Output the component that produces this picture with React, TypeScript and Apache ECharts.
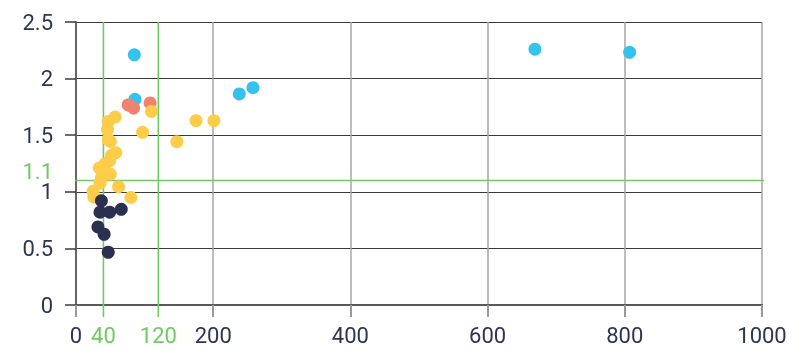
import React, { useEffect, useRef } from "react";
import * as echarts from "echarts";

const xTicks = { min: 0, max: 1000, interval: 200 };
const yTicks = { min: 0, max: 2.5, interval: 0.5 };
const refX = [40, 120];
const refY = [1.1];
const refXSpan = [2.5, -0.105];
const refYSpan = [-16, 1010];

const navyX = [37, 35, 49, 66, 32, 41, 47];
const navyY = [0.92, 0.82, 0.82, 0.845, 0.69, 0.625, 0.466];

const yellowX = [57, 47, 46, 97, 47, 50, 58, 52, 49, 42, 34, 50, 37, 35, 62, 25, 26, 80, 110, 147, 175, 201];
const yellowY = [1.66, 1.62, 1.55, 1.525, 1.46, 1.445, 1.345, 1.325, 1.275, 1.245, 1.21, 1.157, 1.12, 1.075, 1.045, 1.005, 0.955, 0.95, 1.71, 1.443, 1.628, 1.628];

const redX = [76, 84, 108];
const redY = [1.767, 1.74, 1.785];

const blueX = [85, 86, 238, 258, 669, 807];
const blueY = [2.21, 1.817, 1.864, 1.92, 2.26, 2.232];

const NAVY = "#2b3050";
const YELLOW = "#fdcc48";
const RED = "#f0836f";
const BLUE = "#36c2ef";
const GREEN = "#72c865";
const LABEL = "#2e3453";
const FONT = "Roboto";

const zip = (xs: number[], ys: number[]) => xs.map((x, i) => [x, ys[i]]);

export default function App() {
  const ref = useRef<HTMLDivElement>(null);
  useEffect(() => {
    if (!ref.current) return;
    const chart = echarts.init(ref.current, undefined, { renderer: "svg" });
    const scatter = (name: string, xs: number[], ys: number[], color: string) => ({
      name,
      type: "scatter",
      xAxisIndex: 0,
      yAxisIndex: 0,
      symbolSize: 13,
      clip: false,
      z: 3,
      itemStyle: { color, opacity: 1 },
      data: zip(xs, ys),
    });
    const refLine = (data: number[][]) => ({
      type: "line",
      xAxisIndex: 0,
      yAxisIndex: 0,
      silent: true,
      clip: false,
      symbol: "none",
      z: 2,
      lineStyle: { color: GREEN, width: 1.6 },
      data,
    });
    chart.setOption({
      animation: false,
      grid: { left: 76, right: 30, top: 22, bottom: 45 },
      xAxis: [
        {
          type: "value",
          min: xTicks.min,
          max: xTicks.max,
          interval: xTicks.interval,
          axisLine: { show: true, onZero: false, lineStyle: { color: "#5a5a5a", width: 2 } },
          axisTick: { show: true, length: 12, lineStyle: { color: "#999", width: 2 } },
          splitLine: { show: true, lineStyle: { color: "#a6a6a6", width: 1.5 } },
          axisLabel: {
            fontFamily: FONT,
            fontSize: 22,
            color: LABEL,
            margin: 19,
            formatter: (v: number) => String(v),
          },
        },
        {
          type: "value",
          position: "bottom",
          min: xTicks.min,
          max: xTicks.max,
          axisLine: { show: false },
          axisTick: { show: false },
          splitLine: { show: false },
          axisLabel: {
            customValues: refX,
            fontFamily: FONT,
            fontSize: 22,
            color: GREEN,
            margin: 19,
            formatter: (v: number) => String(v),
          },
        },
      ],
      yAxis: [
        {
          type: "value",
          min: yTicks.min,
          max: yTicks.max,
          interval: yTicks.interval,
          axisLine: { show: true, onZero: false, lineStyle: { color: "#666", width: 2 } },
          axisTick: { show: true, length: 11, lineStyle: { color: "#3a3a3a", width: 1.5 } },
          splitLine: { show: true, lineStyle: { color: "#3a3a3a", width: 1 } },
          axisLabel: { fontFamily: FONT, fontSize: 22, color: LABEL, margin: 23 },
        },
        {
          type: "value",
          position: "left",
          min: yTicks.min,
          max: yTicks.max,
          axisLine: { show: false },
          axisTick: { show: false },
          splitLine: { show: false },
          axisLabel: {
            customValues: refY,
            fontFamily: FONT,
            fontSize: 22,
            lineHeight: 17,
            color: GREEN,
            margin: 23,
            verticalAlign: "bottom",
          },
        },
      ],
      series: [
        ...refX.map((v) => refLine(refXSpan.map((y) => [v, y]))),
        ...refY.map((v) => refLine(refYSpan.map((x) => [x, v]))),
        scatter("blue", blueX, blueY, BLUE),
        scatter("red", redX, redY, RED),
        scatter("yellow", yellowX, yellowY, YELLOW),
        scatter("navy", navyX, navyY, NAVY),
      ],
    });
    return () => chart.dispose();
  }, []);
  return (
    <div
      ref={ref}
      style={{ position: "fixed", left: 0, top: 0, width: 792, height: 350 }}
    />
  );
}
